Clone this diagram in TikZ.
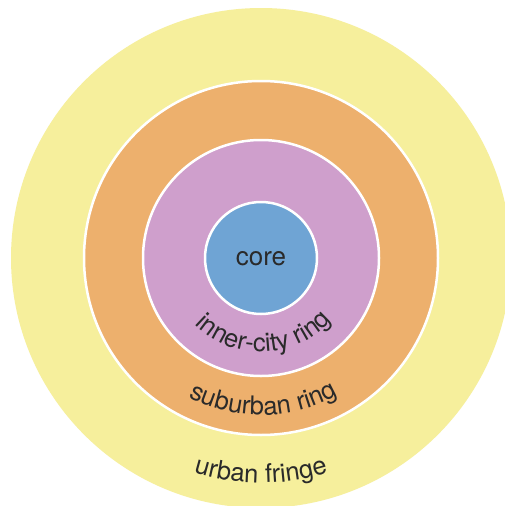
\documentclass[tikz,border=0pt]{standalone}
\usepackage{fontspec}
\setmainfont{TeX Gyre Heros}
\usetikzlibrary{decorations.text}
\definecolor{yel}{HTML}{F6EF9C}
\definecolor{org}{HTML}{EDB06D}
\definecolor{pur}{HTML}{CF9FCC}
\definecolor{blu}{HTML}{6FA4D4}
\definecolor{txt}{HTML}{2A2A2A}
\begin{document}
\begin{tikzpicture}[x=1pt,y=1pt,
  ring/.style={circle, draw=white, line width=2.5pt, inner sep=0pt},
  lbl/.style={font=\fontsize{26}{30}\selectfont, text=txt},
  arclbl/.style={decorate, decoration={text along path, text align=center, text color=txt,
     text={|\fontsize{25.6}{30}\selectfont|#1}}}]
\useasboundingbox (0,0) rectangle (505,-506);
\fill[white] (0,0) rectangle (505,-506);
\clip (0,0) rectangle (505,-506);
\coordinate (c) at (261,-258);
\node[ring, draw=none, fill=yel, minimum size=500pt] (fringe) at (c) {};
\node[ring, fill=org, minimum size=354pt] (suburb) at (c) {};
\node[ring, fill=pur, minimum size=236pt] (inner) at (c) {};
\node[ring, fill=blu, minimum size=112pt] (core) at (c) {};
\node[lbl] (corelbl) at ([yshift=-1pt]c) {core};
\path[arclbl={inner-city ring}] ([shift={(182:94)}]c) arc[start angle=182, end angle=362, radius=94];
\path[arclbl={suburban ring}] ([shift={(181:157)}]c) arc[start angle=181, end angle=361, radius=157];
\path[arclbl={urban fringe}] ([shift={(180:225)}]c) arc[start angle=180, end angle=360, radius=225];
\end{tikzpicture}
\end{document}
